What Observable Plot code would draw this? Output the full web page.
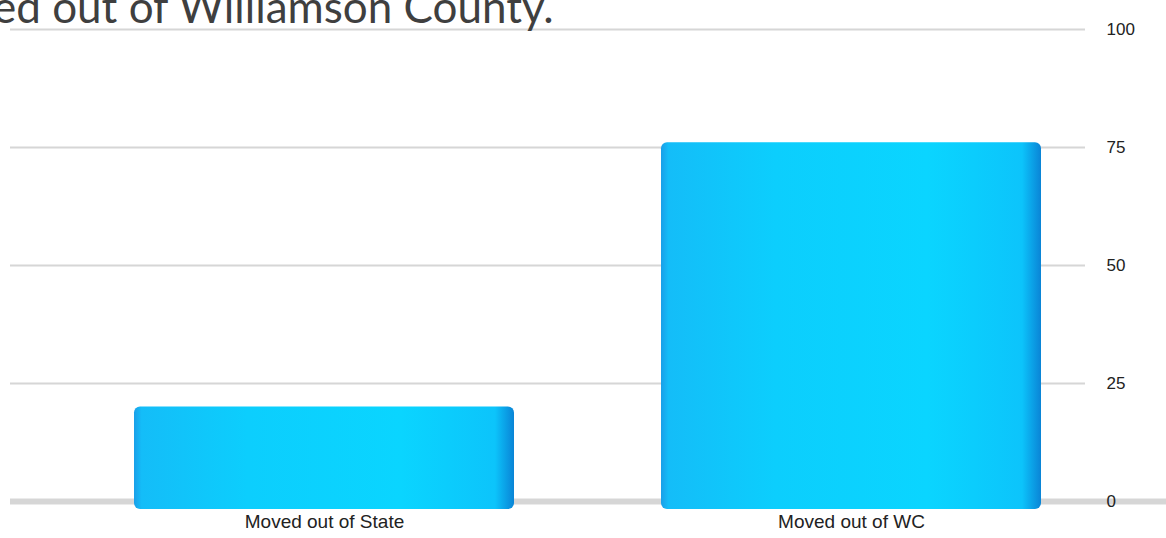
<!DOCTYPE html>
<html><head><meta charset="utf-8">
<script src="https://cdn.jsdelivr.net/npm/d3@7"></script>
<script src="https://cdn.jsdelivr.net/npm/@observablehq/plot@0.6"></script>
<style>
html,body{margin:0;padding:0;background:#fff;overflow:hidden}
#wrap{position:relative;width:1166px;height:538px;overflow:hidden}
#title{position:absolute;left:-7px;top:-16px;font-family:Lato,"Open Sans",sans-serif;font-size:44px;color:#3f3f3f;white-space:nowrap;line-height:1;z-index:2}
</style></head><body>
<div id="wrap"></div>
<script>
const titleText = "ed out of Williamson County.";
const categories = ["Moved out of State", "Moved out of WC"];
const values = [20, 76];
const yTicks = [0, 25, 50, 75, 100];
const gridTicks = [25, 50, 75, 100];

const data = categories.map((c, i) => ({category: c, value: values[i]}));

const chart = Plot.plot({
  width: 1166,
  height: 538,
  marginTop: 29,
  marginBottom: 37,
  marginLeft: 10,
  marginRight: 81,
  style: {background: "transparent", fontFamily: "'Liberation Sans', Arial, sans-serif", fontSize: "18px", color: "#222"},
  x: {domain: categories, range: [133.5, 1042.7], paddingInner: 0.278, paddingOuter: 0, axis: null, label: null},
  y: {domain: [0, 100], axis: null, label: null},
  marks: [
    Plot.ruleY(gridTicks, {stroke: "#d6d6d6", strokeWidth: 2}),
    Plot.ruleY([0], {stroke: "#cccccc", strokeWidth: 6, strokeOpacity: 0.8, insetRight: -81}),
    Plot.barY(data, {x: "category", y: "value", fill: "url(#barGrad)", rx: 6, insetBottom: -8}),
    Plot.axisY(yTicks, {anchor: "right", label: null, tickSize: 0, tickPadding: 21, fontSize: 17, fill: "#222"}),
    Plot.axisX(categories, {anchor: "bottom", label: null, tickSize: 0, tickPadding: 13, fontSize: 19, fill: "#222"})
  ]
});

const ns = "http://www.w3.org/2000/svg";
const defs = document.createElementNS(ns, "defs");
defs.innerHTML = `<linearGradient id="barGrad" x1="0" y1="0" x2="1" y2="0">
  <stop offset="0" stop-color="#1a9fe8"/>
  <stop offset="0.02" stop-color="#14bdf8"/>
  <stop offset="0.3" stop-color="#0ccefd"/>
  <stop offset="0.7" stop-color="#0ad5ff"/>
  <stop offset="0.95" stop-color="#0cc4fb"/>
  <stop offset="1" stop-color="#0a84d6"/>
</linearGradient>`;
chart.insertBefore(defs, chart.firstChild);

const wrap = document.getElementById("wrap");
wrap.appendChild(chart);
const t = document.createElement("div");
t.id = "title";
t.textContent = titleText;
wrap.appendChild(t);
</script>
</body></html>
